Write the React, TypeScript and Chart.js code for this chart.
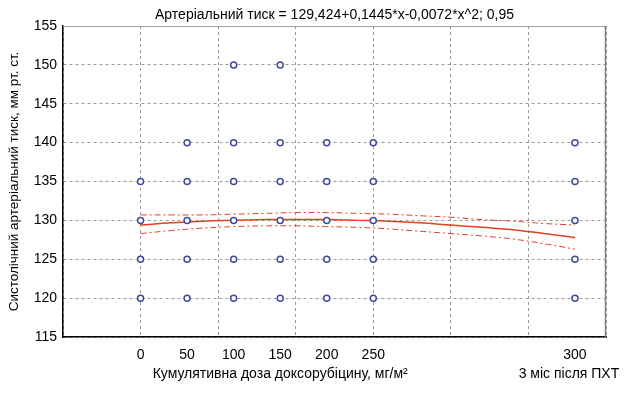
import React, { useEffect, useRef } from 'react';
import { Chart, registerables } from 'chart.js';

Chart.register(...registerables);

const titleText = 'Артеріальний тиск = 129,424+0,1445*x-0,0072*x^2; 0,95';
const yTitle = 'Систолічний артеріальний тиск, мм рт. ст.';
const xTitle = 'Кумулятивна доза доксорубіцину, мг/м²';
const xTitle2 = '3 міс після ПХТ';

// x positions of the observation groups and their tick labels
const xPositions = [0, 3, 6, 9, 12, 15, 28];
const xTickLabels = ['0', '50', '100', '150', '200', '250', '300'];
const gridX = [-5, 0, 5, 10, 15, 20, 25, 30];

// observed values
const obsX = [
  0, 0, 0, 0,
  3, 3, 3, 3, 3,
  6, 6, 6, 6, 6, 6,
  9, 9, 9, 9, 9, 9,
  12, 12, 12, 12, 12,
  15, 15, 15, 15, 15,
  28, 28, 28, 28, 28,
];
const obsY = [
  120, 125, 130, 135,
  120, 125, 130, 135, 140,
  120, 125, 130, 135, 140, 150,
  120, 125, 130, 135, 140, 150,
  120, 125, 130, 135, 140,
  120, 125, 130, 135, 140,
  120, 125, 130, 135, 140,
];

// fitted curve and 95% band
const fitX = [0, 2, 4, 6, 8, 10, 12, 14, 16, 18, 20, 22, 24, 26, 28];
const fitY = [129.4, 129.7, 129.9, 130.0, 130.1, 130.1, 130.1, 130.0, 129.9, 129.7, 129.4, 129.1, 128.8, 128.3, 127.8];
const upperY = [130.7, 130.7, 130.7, 130.8, 130.9, 131.0, 131.0, 130.9, 130.8, 130.6, 130.4, 130.1, 129.9, 129.6, 129.4];
const lowerY = [128.3, 128.7, 129.0, 129.2, 129.3, 129.3, 129.2, 129.1, 128.9, 128.6, 128.3, 128.0, 127.6, 127.0, 126.3];

const yMin = 115;
const yMax = 155;
const yStep = 5;

const FONT = '"Liberation Sans", Arial, sans-serif';
const RED = '#e2401e';
const BLUE = '#3f4a9a';
const GRID = '#9a9a9a';

const allXTicks = Array.from(new Set([...gridX, ...xPositions])).sort((a, b) => a - b);

const textPlugin = {
  id: 'extraTexts',
  afterDraw(chart: any) {
    const { ctx, chartArea: a } = chart;
    const xs = chart.scales.x;
    ctx.save();
    ctx.strokeStyle = '#a0a0a0';
    ctx.lineWidth = 1;
    ctx.beginPath();
    ctx.moveTo(a.left, a.top + 0.5);
    ctx.lineTo(a.right - 0.5, a.top + 0.5);
    ctx.stroke();
    ctx.strokeStyle = '#808080';
    ctx.lineWidth = 1.5;
    ctx.beginPath();
    ctx.moveTo(a.right - 0.5, a.top);
    ctx.lineTo(a.right - 0.5, a.bottom);
    ctx.stroke();
    ctx.fillStyle = '#000';
    ctx.font = '14px ' + FONT;
    ctx.textAlign = 'center';
    ctx.textBaseline = 'middle';
    ctx.fillText(titleText, (a.left + a.right) / 2, 15);
    ctx.fillText(xTitle, xs.getPixelForValue(9), 374);
    ctx.fillText(xTitle2, xs.getPixelForValue(28) - 6, 374);
    ctx.restore();
  },
};

export default function App() {
  const ref = useRef<HTMLCanvasElement | null>(null);

  useEffect(() => {
    document.body.style.margin = '0';
    if (!ref.current) return;
    const pts = obsX.map((x, i) => ({ x, y: obsY[i] }));
    const mk = (ys: number[]) => fitX.map((x, i) => ({ x, y: ys[i] }));
    const chart = new Chart(ref.current, {
      type: 'scatter',
      data: {
        datasets: [
          {
            label: 'obs',
            data: pts,
            pointStyle: 'circle',
            pointRadius: 3,
            pointBorderWidth: 1.5,
            borderColor: BLUE,
            backgroundColor: '#ffffff',
            showLine: false,
          },
          {
            label: 'fit',
            data: mk(fitY),
            showLine: true,
            borderColor: RED,
            borderWidth: 1.5,
            pointRadius: 0,
            tension: 0.4,
          },
          {
            label: 'upper',
            data: mk(upperY),
            showLine: true,
            borderColor: RED,
            borderWidth: 1,
            borderDash: [6, 3, 2, 3],
            pointRadius: 0,
            tension: 0.4,
          },
          {
            label: 'lower',
            data: mk(lowerY),
            showLine: true,
            borderColor: RED,
            borderWidth: 1,
            borderDash: [6, 3, 2, 3],
            pointRadius: 0,
            tension: 0.4,
          },
        ],
      },
      options: {
        responsive: false,
        animation: false,
        layout: { padding: { top: 26, right: 28, left: 0, bottom: 0 } },
        plugins: {
          legend: { display: false },
          tooltip: { enabled: false },
          title: { display: false },
        },
        scales: {
          x: {
            type: 'linear',
            min: -5,
            max: 30,
            afterBuildTicks: (scale: any) => {
              scale.ticks = allXTicks.map((v) => ({ value: v }));
            },
            afterFit: (scale: any) => {
              scale.height = 56;
            },
            grid: {
              drawTicks: false,
              color: (ctx: any) =>
                ctx.tick && gridX.includes(ctx.tick.value) ? GRID : 'rgba(0,0,0,0)',
              lineWidth: 1,
            },
            border: { display: true, color: '#000', width: 1.5, dash: [3, 3] },
            ticks: {
              autoSkip: false,
              maxRotation: 0,
              padding: 10,
              color: '#000',
              font: { family: FONT, size: 14 },
              callback: (value: any) => {
                const i = xPositions.indexOf(Number(value));
                return i >= 0 ? xTickLabels[i] : '';
              },
            },
          },
          y: {
            type: 'linear',
            min: yMin,
            max: yMax,
            afterFit: (scale: any) => {
              scale.width = 63;
            },
            grid: {
              drawTicks: false,
              color: GRID,
              lineWidth: 1,
            },
            border: { display: true, color: '#000', width: 1.5, dash: [3, 3] },
            ticks: {
              stepSize: yStep,
              padding: 6,
              color: '#000',
              font: { family: FONT, size: 14 },
            },
            title: {
              display: true,
              text: yTitle,
              color: '#000',
              font: { family: FONT, size: 13.5 },
              padding: { top: 6, bottom: 0 },
            },
          },
        },
      },
      plugins: [textPlugin],
    });
    return () => chart.destroy();
  }, []);

  return (
    <div style={{ width: 634, height: 393 }}>
      <canvas ref={ref} width={634} height={393} style={{ display: 'block' }} />
    </div>
  );
}
